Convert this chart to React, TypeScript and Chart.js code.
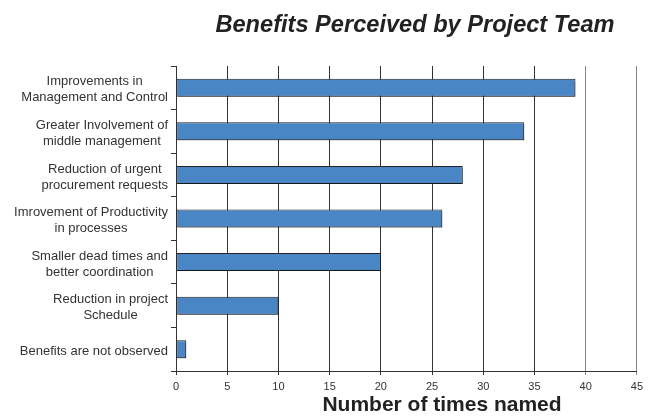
import React, { useEffect, useRef } from "react";
import { Chart, registerables } from "chart.js";

Chart.register(...registerables);

const categories: string[][] = [
  ["Improvements in", "Management and Control"],
  ["Greater Involvement of", "middle management"],
  ["Reduction of urgent", "procurement requests"],
  ["Imrovement of Productivity", "in processes"],
  ["Smaller dead times and", "better coordination"],
  ["Reduction in project", "Schedule"],
  ["Benefits are not observed"],
];
const timesNamed: number[] = [39, 34, 28, 26, 20, 10, 1];
const xMin = 0;
const xMax = 45;
const xStep = 5;
const chartTitle = "Benefits Perceived by Project Team";
const xAxisTitle = "Number of times named";

const FONT = "'Liberation Sans', Arial, sans-serif";

export default function App() {
  const ref = useRef<HTMLCanvasElement | null>(null);

  useEffect(() => {
    if (!ref.current) return;

    const textPlugin = {
      id: "textPlugin",
      afterDraw(chart: any) {
        const ctx = chart.ctx;
        const yScale = chart.scales.y;
        ctx.save();
        // Title
        ctx.fillStyle = "#222";
        ctx.font = `italic bold 23.6px ${FONT}`;
        ctx.textAlign = "center";
        ctx.textBaseline = "alphabetic";
        ctx.fillText(chartTitle, 415, 32);
        // X axis title
        ctx.font = `bold 21px ${FONT}`;
        ctx.fillText(xAxisTitle, 442, 411);
        // Y category labels: block right-aligned, lines centered within block
        ctx.font = `13px ${FONT}`;
        ctx.fillStyle = "#333";
        ctx.textBaseline = "middle";
        const rightEdge = 168;
        const lineH = 16;
        categories.forEach((lines, i) => {
          const cy = yScale.getPixelForValue(i);
          const maxW = Math.max(...lines.map((l) => ctx.measureText(l).width));
          const cx = rightEdge - maxW / 2;
          const startY = cy - ((lines.length - 1) * lineH) / 2 + 2;
          lines.forEach((l, j) => {
            ctx.fillText(l, cx, startY + j * lineH);
          });
        });
        ctx.restore();
      },
    };

    const shadowPlugin = {
      id: "shadowPlugin",
      beforeDatasetsDraw(chart: any) {
        const ctx = chart.ctx;
        ctx.save();
        ctx.shadowColor = "rgba(0,0,0,0.28)";
        ctx.shadowOffsetX = 2;
        ctx.shadowOffsetY = 2;
        ctx.shadowBlur = 0;
      },
      afterDatasetsDraw(chart: any) {
        chart.ctx.restore();
      },
    };

    const chart = new Chart(ref.current, {
      type: "bar",
      data: {
        labels: categories,
        datasets: [
          {
            data: timesNamed,
            backgroundColor: "#4a86c6",
            borderColor: "#222",
            borderWidth: 1,
            borderSkipped: false,
            barPercentage: 0.413,
            categoryPercentage: 1,
          },
        ],
      },
      options: {
        indexAxis: "y",
        responsive: false,
        animation: false,
        layout: { padding: { top: 66, right: 9, left: 0, bottom: 0 } },
        plugins: {
          legend: { display: false },
          title: { display: false },
          tooltip: { enabled: false },
        },
        scales: {
          x: {
            type: "linear",
            min: xMin,
            max: xMax,
            ticks: {
              stepSize: xStep,
              color: "#333",
              font: { family: FONT, size: 11 },
              padding: 5,
            },
            grid: {
              display: true,
              drawOnChartArea: true,
              drawTicks: true,
              tickLength: 4,
              color: (c: any) => (c.tick && c.tick.value >= 40 ? "#888" : "#333"),
              lineWidth: 1,
            },
            border: { display: true, color: "#333", width: 1 },
            afterFit(scale: any) {
              scale.height = 45;
            },
          },
          y: {
            type: "category",
            ticks: { display: false },
            grid: {
              display: true,
              offset: true,
              drawOnChartArea: false,
              drawTicks: true,
              tickLength: 5,
              color: "#333",
            },
            border: { display: true, color: "#333", width: 1 },
            afterFit(scale: any) {
              scale.width = 176;
            },
          },
        },
      },
      plugins: [shadowPlugin, textPlugin],
    });

    return () => chart.destroy();
  }, []);

  return (
    <div style={{ position: "fixed", left: 0, top: 0, width: 648, height: 416, background: "#fff" }}>
      <canvas ref={ref} width={648} height={416} style={{ width: 648, height: 416 }} />
    </div>
  );
}
